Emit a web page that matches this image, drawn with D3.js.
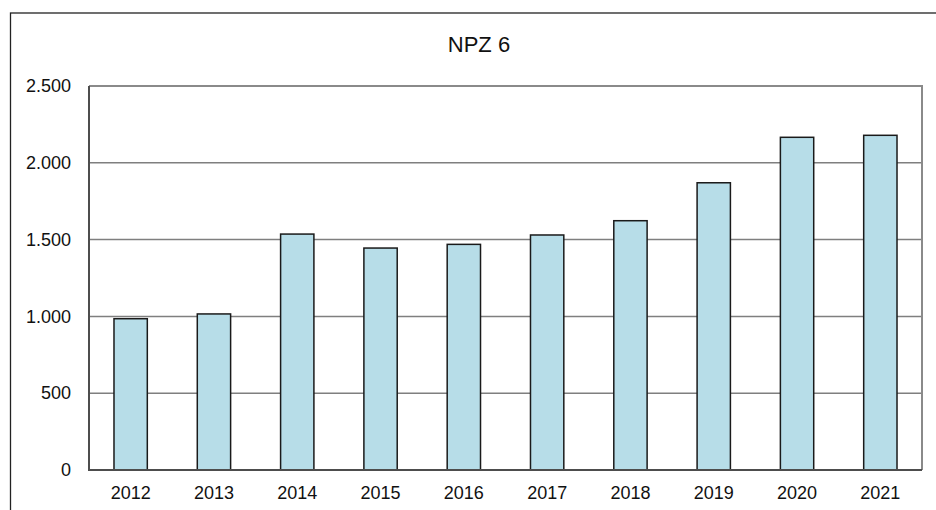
<!DOCTYPE html>
<html lang="en">
<head>
<meta charset="UTF-8">
<title>NPZ 6</title>
<style>
  body { margin: 0; background: #fff; }
  text { font-family: "Liberation Sans", Arial, sans-serif; fill: #111; }
</style>
</head>
<body>
<svg width="936" height="510"></svg>
<script src="https://cdnjs.cloudflare.com/ajax/libs/d3/7.8.5/d3.min.js"></script>
<script>
var years = ["2012", "2013", "2014", "2015", "2016", "2017", "2018", "2019", "2020", "2021"];
var values = [985, 1016, 1536, 1445, 1469, 1530, 1623, 1870, 2166, 2179];
var yTicks = [0, 500, 1000, 1500, 2000, 2500];
var yTickLabels = ["0", "500", "1.000", "1.500", "2.000", "2.500"];
var chartTitle = "NPZ 6";

var svg = d3.select("svg"),
    margin = {top: 86, right: 14, bottom: 40, left: 89};

var width = +svg.attr("width") - margin.left - margin.right;
var height = +svg.attr("height") - margin.top - margin.bottom;

// outer chart frame (runs off the right and bottom of the picture)
svg.append("rect")
    .attr("x", 10.5).attr("y", 13)
    .attr("width", 940).attr("height", 520)
    .attr("fill", "none")
    .attr("stroke", "#222")
    .attr("stroke-width", 1.3);

svg.append("text")
    .attr("x", 479).attr("y", 52)
    .attr("text-anchor", "middle")
    .style("font-size", "22px")
    .text(chartTitle);

var g = svg.append("g")
    .attr("transform", "translate(" + margin.left + "," + margin.top + ")");

var x = d3.scaleBand().domain(years).range([0, width]).paddingInner(0.6).paddingOuter(0.3);
var y = d3.scaleLinear().domain([0, 2500]).range([height, 0]);

// gridlines
g.selectAll(".grid")
    .data(yTicks.slice(1, -1))
    .enter().append("line")
    .attr("x1", 0).attr("x2", width)
    .attr("y1", function(d) { return y(d); })
    .attr("y2", function(d) { return y(d); })
    .attr("stroke", "#7f7f7f")
    .attr("stroke-width", 1.5);

// top and right frame
g.append("path")
    .attr("d", "M0," + y(2500) + "H" + width + "V" + height)
    .attr("fill", "none")
    .attr("stroke", "#8a8a8a")
    .attr("stroke-width", 2);

g.selectAll(".bar")
    .data(values)
    .enter().append("rect")
    .attr("x", function(d, i) { return x(years[i]); })
    .attr("y", function(d) { return y(d); })
    .attr("width", x.bandwidth())
    .attr("height", function(d) { return height - y(d); })
    .attr("fill", "#b7dde8")
    .attr("stroke", "#1a1a1a")
    .attr("stroke-width", 1.5);

// left and bottom axis lines
g.append("path")
    .attr("d", "M0," + y(2500) + "V" + height + "H" + width)
    .attr("fill", "none")
    .attr("stroke", "#4d4d4d")
    .attr("stroke-width", 2);

var yAxis = d3.axisLeft(y)
    .tickValues(yTicks)
    .tickFormat(function(d, i) { return yTickLabels[i]; })
    .tickSize(0).tickPadding(18);

g.append("g").call(yAxis)
    .call(function(a) { a.select(".domain").remove(); })
    .selectAll("text")
    .style("font-size", "18px")
    .style("font-family", "Liberation Sans, Arial, sans-serif")
    .attr("fill", "#111");

var xAxis = d3.axisBottom(x).tickSize(0).tickPadding(16);

g.append("g")
    .attr("transform", "translate(0," + height + ")")
    .call(xAxis)
    .call(function(a) { a.select(".domain").remove(); })
    .selectAll("text")
    .style("font-size", "18px")
    .style("font-family", "Liberation Sans, Arial, sans-serif")
    .attr("fill", "#111");
</script>
</body>
</html>
